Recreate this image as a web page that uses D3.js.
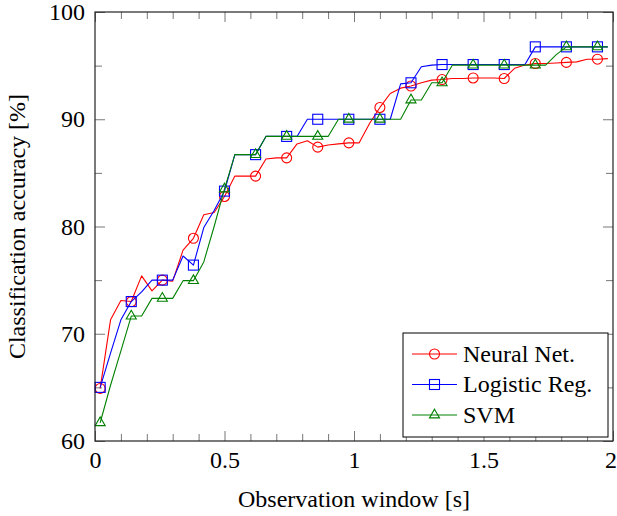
<!DOCTYPE html>
<html>
<head>
<meta charset="utf-8">
<script src="https://cdn.jsdelivr.net/npm/d3@7"></script>
<style>
  html, body { margin: 0; padding: 0; background: #fff; }
  svg { display: block; }
  text { font-family: "Liberation Serif", "DejaVu Serif", serif; fill: #000; }
</style>
</head>
<body>
<div id="chart"></div>
<script>
/* Accuracy vs observation window, three classifiers */

const windowSec = [
  0.02, 0.06, 0.10, 0.14, 0.18, 0.22, 0.26, 0.30, 0.34, 0.38,
  0.42, 0.46, 0.50, 0.54, 0.58, 0.62, 0.66, 0.70, 0.74, 0.78,
  0.82, 0.86, 0.90, 0.94, 0.98, 1.02, 1.06, 1.10, 1.14, 1.18,
  1.22, 1.26, 1.30, 1.34, 1.38, 1.42, 1.46, 1.50, 1.54, 1.58,
  1.62, 1.66, 1.70, 1.74, 1.78, 1.82, 1.86, 1.90, 1.94, 1.98
];

const neuralNet = [
  64.9, 71.3, 73.1, 73.0, 75.4, 74.0, 75.0, 74.9, 77.8, 78.9,
  81.1, 81.3, 82.8, 84.7, 84.7, 84.7, 86.3, 86.4, 86.4, 87.7,
  88.0, 87.4, 87.6, 87.7, 87.8, 87.8, 89.6, 91.1, 92.4, 92.9,
  93.1, 93.4, 93.65, 93.7, 93.8, 93.8, 93.85, 93.85, 93.85, 93.8,
  94.75, 95.05, 95.2, 95.2, 95.25, 95.3, 95.35, 95.6, 95.6, 95.65
];

const logisticReg = [
  65.0, 68.2, 71.3, 73.0, 73.9, 75.0, 75.0, 75.0, 77.25, 76.4,
  79.9, 81.5, 83.3, 86.7, 86.7, 86.7, 88.4, 88.4, 88.4, 88.4,
  90.0, 90.0, 90.0, 90.0, 90.0, 90.0, 90.0, 90.0, 90.0, 93.3,
  93.4, 94.9, 95.05, 95.1, 95.1, 95.1, 95.1, 95.1, 95.1, 95.1,
  95.1, 95.1, 96.75, 96.75, 96.75, 96.75, 96.75, 96.75, 96.75, 96.75
];

const svm = [
  61.7, 65.2, 68.4, 71.65, 71.65, 73.3, 73.3, 73.3, 74.95, 74.95,
  76.7, 80.0, 83.5, 86.7, 86.7, 86.7, 88.4, 88.4, 88.4, 88.4,
  88.4, 88.4, 88.4, 90.0, 90.0, 90.0, 90.0, 90.0, 90.0, 90.0,
  91.8, 91.8, 93.4, 93.4, 95.05, 95.05, 95.05, 95.05, 95.05, 95.05,
  95.05, 95.05, 95.05, 95.05, 96.0, 96.75, 96.75, 96.75, 96.75, 96.75
];

const seriesNames = ["Neural Net.", "Logistic Reg.", "SVM"];
const xMajor = [0, 0.5, 1, 1.5, 2];
const xMinor = [0.1, 0.2, 0.3, 0.4, 0.6, 0.7, 0.8, 0.9, 1.1, 1.2, 1.3, 1.4, 1.6, 1.7, 1.8, 1.9];
const yMajor = [60, 70, 80, 90, 100];
const yMinor = [65, 75, 85, 95];

const series = [
  { name: seriesNames[0], values: neuralNet, color: "#ff0000", mark: "circle" },
  { name: seriesNames[1], values: logisticReg, color: "#0000ff", mark: "square" },
  { name: seriesNames[2], values: svm, color: "#008000", mark: "triangle" }
];

const fullW = 617, fullH = 516;
const margin = { top: 12, right: 4, bottom: 75, left: 95 };
const w = fullW - margin.left - margin.right;
const h = fullH - margin.top - margin.bottom;

const svg = d3.select("#chart").append("svg")
  .attr("width", fullW).attr("height", fullH);

const g = svg.append("g")
  .attr("transform", `translate(${margin.left},${margin.top})`);

/* Scales */
const x = d3.scaleLinear().domain([0, 2]).range([0, w]);
const y = d3.scaleLinear().domain([60, 100]).range([h, 0]);

const tickColor = "#777";
const fmtX = d => d3.format("~g")(d);

function styleAxis(sel) {
  sel.select(".domain").remove();
  sel.selectAll("line").attr("stroke", tickColor).attr("stroke-width", 1);
  sel.selectAll("text").style("font-size", "24px")
    .style("font-family", "'Liberation Serif', serif").attr("fill", "#000");
}

/* Ticks on all four sides, pointing inward */
g.append("g").attr("transform", `translate(0,${h})`)
  .call(d3.axisBottom(x).tickValues(xMajor).tickSize(-10).tickPadding(10).tickFormat(fmtX))
  .call(styleAxis)
  // last label sits on the page edge, nudge it in a little
  .call(a => a.selectAll(".tick text").filter(d => d === 2).attr("dx", -2.5));
g.append("g").attr("transform", `translate(0,${h})`)
  .call(d3.axisBottom(x).tickValues(xMinor).tickSize(-7).tickFormat(""))
  .call(styleAxis);
g.append("g")
  .call(d3.axisTop(x).tickValues(xMajor).tickSize(-10).tickFormat(""))
  .call(styleAxis);
g.append("g")
  .call(d3.axisTop(x).tickValues(xMinor).tickSize(-7).tickFormat(""))
  .call(styleAxis);

g.append("g")
  .call(d3.axisLeft(y).tickValues(yMajor).tickSize(-10).tickPadding(10).tickFormat(d => d))
  .call(styleAxis);
g.append("g")
  .call(d3.axisLeft(y).tickValues(yMinor).tickSize(-7).tickFormat(""))
  .call(styleAxis);
g.append("g").attr("transform", `translate(${w},0)`)
  .call(d3.axisRight(y).tickValues(yMajor).tickSize(-10).tickFormat(""))
  .call(styleAxis);
g.append("g").attr("transform", `translate(${w},0)`)
  .call(d3.axisRight(y).tickValues(yMinor).tickSize(-7).tickFormat(""))
  .call(styleAxis);

/* Markers */
function drawMark(sel, type, color) {
  if (type === "circle") {
    sel.append("circle").attr("r", 5);
  } else if (type === "square") {
    sel.append("rect").attr("x", -5).attr("y", -5).attr("width", 10).attr("height", 10);
  } else {
    const r = 5.8;
    sel.append("path").attr("d",
      `M0,${-r}L${r * 0.866},${r * 0.5}L${-r * 0.866},${r * 0.5}Z`);
  }
  sel.selectAll("circle,rect,path")
    .attr("fill", "none").attr("stroke", color).attr("stroke-width", 1.1);
}

const line = d3.line()
  .x(d => x(d.t))
  .y(d => y(d.v));

const plot = g.append("g");

series.forEach(s => {
  const data = windowSec.map((t, i) => ({ t, v: s.values[i], i }));
  plot.append("path")
    .datum(data)
    .attr("fill", "none")
    .attr("stroke", s.color)
    .attr("stroke-width", 1.1)
    .attr("stroke-linejoin", "round")
    .attr("d", line);

  plot.append("g").selectAll("g")
    .data(data.filter(d => d.i % 3 === 0))
    .join("g")
      .attr("transform", d => `translate(${x(d.t)},${y(d.v)})`)
      .each(function() { drawMark(d3.select(this), s.mark, s.color); });
});

/* Frame */
g.append("rect")
  .attr("width", w).attr("height", h)
  .attr("fill", "none").attr("stroke", "#222").attr("stroke-width", 1.2);

/* Legend */
const legW = 205, legH = 104;
const legend = g.append("g")
  .attr("transform", `translate(${w - 5 - legW},${h - 4 - legH})`);
legend.append("rect")
  .attr("width", legW).attr("height", legH)
  .attr("fill", "#fff").attr("stroke", "#000").attr("stroke-width", 1);

series.forEach((s, i) => {
  const row = legend.append("g").attr("transform", `translate(0,${21 + i * 30.5})`);
  row.append("line").attr("x1", 9).attr("x2", 54)
    .attr("stroke", s.color).attr("stroke-width", 1.1);
  drawMark(row.append("g").attr("transform", "translate(31.5,0)"), s.mark, s.color);
  row.append("text").attr("x", 60).attr("y", 7.5)
    .style("font-size", "24px").text(s.name);
});

/* Axis labels */
svg.append("text")
  .attr("x", margin.left + w / 2).attr("y", 507)
  .attr("text-anchor", "middle")
  .style("font-size", "24px")
  .text("Observation window [s]");

svg.append("text")
  .attr("transform", "rotate(-90)")
  .attr("x", -(margin.top + h / 2)).attr("y", 25)
  .attr("text-anchor", "middle")
  .style("font-size", "24px")
  .text("Classification accuracy [%]");
</script>
</body>
</html>
